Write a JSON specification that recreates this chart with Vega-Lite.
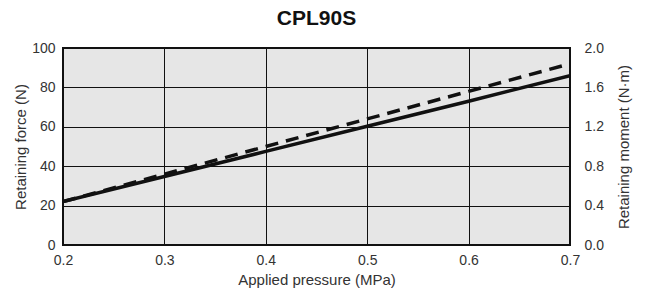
{
  "$schema": "https://vega.github.io/schema/vega-lite/v6.json",
  "width": 507,
  "height": 197,
  "autosize": {"type": "none"},
  "padding": {"left": 63, "top": 48, "right": 89, "bottom": 44},
  "background": "white",
  "title": {"text": "CPL90S", "font": "Liberation Sans", "fontSize": 21, "fontWeight": "bold", "color": "#111", "anchor": "middle", "offset": 12},
  "config": {
    "view": {"fill": "#e6e6e6", "stroke": "#111", "strokeWidth": 2},
    "axis": {"labelFont": "Liberation Sans", "titleFont": "Liberation Sans", "labelFontSize": 14, "titleFontSize": 15, "titleFontWeight": "normal", "labelColor": "#333", "titleColor": "#333", "ticks": false, "domain": false, "gridColor": "#111", "gridOpacity": 1, "gridWidth": 1}
  },
  "data": {"values": [
    {"p": 0.2, "force": 22, "moment": 0.44},
    {"p": 0.3, "force": 34.8, "moment": 0.72},
    {"p": 0.4, "force": 47.5, "moment": 1.0},
    {"p": 0.5, "force": 60.3, "moment": 1.28},
    {"p": 0.6, "force": 73, "moment": 1.56},
    {"p": 0.7, "force": 86, "moment": 1.84}
  ]},
  "encoding": {
    "x": {"field": "p", "type": "quantitative", "scale": {"domain": [0.2, 0.7], "nice": false, "zero": false},
      "axis": {"title": "Applied pressure (MPa)", "values": [0.2, 0.3, 0.4, 0.5, 0.6, 0.7], "format": ".1f", "labelPadding": 8, "titlePadding": 5, "labelFlush": false, "grid": true}}
  },
  "layer": [
    {
      "mark": {"type": "line", "color": "#111", "strokeWidth": 3.5, "strokeDash": [13, 8], "clip": true},
      "encoding": {
        "y": {"field": "moment", "type": "quantitative", "scale": {"domain": [0, 2], "nice": false},
          "axis": {"orient": "right", "title": "Retaining moment (N·m)", "titleAngle": 270, "values": [0, 0.4, 0.8, 1.2, 1.6, 2.0], "format": ".1f", "grid": false, "labelPadding": 14, "titlePadding": 28}}
      }
    },
    {
      "mark": {"type": "line", "color": "#111", "strokeWidth": 3.5, "clip": true},
      "encoding": {
        "y": {"field": "force", "type": "quantitative", "scale": {"domain": [0, 100], "nice": false},
          "axis": {"orient": "left", "title": "Retaining force (N)", "grid": true, "values": [0, 20, 40, 60, 80, 100], "labelPadding": 8, "titlePadding": 3}}
      }
    }
  ],
  "resolve": {"scale": {"y": "independent"}}
}
